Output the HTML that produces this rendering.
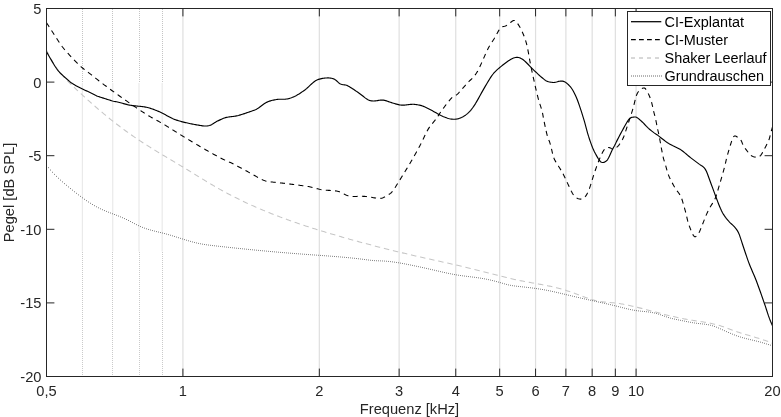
<!DOCTYPE html>
<html lang="de"><head><meta charset="utf-8"><title>Pegel / Frequenz</title>
<style>html,body{margin:0;padding:0;background:#fff;}body{width:781px;height:417px;overflow:hidden;}svg{display:block;will-change:transform;}</style>
</head><body>
<svg width="781" height="417" viewBox="0 0 781 417">
<rect width="781" height="417" fill="#fff"/>
<line x1="182.92" y1="8.5" x2="182.92" y2="376.5" stroke="#dfdfdf" stroke-width="1.2"/>
<line x1="319.33" y1="8.5" x2="319.33" y2="376.5" stroke="#dfdfdf" stroke-width="1.2"/>
<line x1="399.13" y1="8.5" x2="399.13" y2="376.5" stroke="#dfdfdf" stroke-width="1.2"/>
<line x1="455.75" y1="8.5" x2="455.75" y2="376.5" stroke="#dfdfdf" stroke-width="1.2"/>
<line x1="499.67" y1="8.5" x2="499.67" y2="376.5" stroke="#dfdfdf" stroke-width="1.2"/>
<line x1="535.55" y1="8.5" x2="535.55" y2="376.5" stroke="#dfdfdf" stroke-width="1.2"/>
<line x1="565.89" y1="8.5" x2="565.89" y2="376.5" stroke="#dfdfdf" stroke-width="1.2"/>
<line x1="592.17" y1="8.5" x2="592.17" y2="376.5" stroke="#dfdfdf" stroke-width="1.2"/>
<line x1="615.35" y1="8.5" x2="615.35" y2="376.5" stroke="#dfdfdf" stroke-width="1.2"/>
<line x1="636.08" y1="8.5" x2="636.08" y2="376.5" stroke="#dfdfdf" stroke-width="1.2"/>
<line x1="82.38" y1="8.5" x2="82.38" y2="83" stroke="#c4c4c4" stroke-width="1" stroke-dasharray="1 1" shape-rendering="crispEdges"/>
<line x1="82.38" y1="83" x2="82.38" y2="251.5" stroke="#eaeaea" stroke-width="1.2"/>
<line x1="82.38" y1="251.5" x2="82.38" y2="376.5" stroke="#cacaca" stroke-width="1" stroke-dasharray="1 1" shape-rendering="crispEdges"/>
<line x1="112.72" y1="8.5" x2="112.72" y2="83" stroke="#c4c4c4" stroke-width="1" stroke-dasharray="1 1" shape-rendering="crispEdges"/>
<line x1="112.72" y1="83" x2="112.72" y2="251.5" stroke="#eaeaea" stroke-width="1.2"/>
<line x1="112.72" y1="251.5" x2="112.72" y2="376.5" stroke="#cacaca" stroke-width="1" stroke-dasharray="1 1" shape-rendering="crispEdges"/>
<line x1="139.0" y1="8.5" x2="139.0" y2="83" stroke="#c4c4c4" stroke-width="1" stroke-dasharray="1 1" shape-rendering="crispEdges"/>
<line x1="139.0" y1="83" x2="139.0" y2="251.5" stroke="#eaeaea" stroke-width="1.2"/>
<line x1="139.0" y1="251.5" x2="139.0" y2="376.5" stroke="#cacaca" stroke-width="1" stroke-dasharray="1 1" shape-rendering="crispEdges"/>
<line x1="162.18" y1="8.5" x2="162.18" y2="83" stroke="#c4c4c4" stroke-width="1" stroke-dasharray="1 1" shape-rendering="crispEdges"/>
<line x1="162.18" y1="83" x2="162.18" y2="251.5" stroke="#eaeaea" stroke-width="1.2"/>
<line x1="162.18" y1="251.5" x2="162.18" y2="376.5" stroke="#cacaca" stroke-width="1" stroke-dasharray="1 1" shape-rendering="crispEdges"/>
<g fill="none" stroke-linejoin="round">
<path d="M46.5,50.10 L47.5,52.26 L48.5,54.31 L49.5,56.28 L50.5,58.15 L51.5,59.95 L52.5,61.66 L53.5,63.30 L54.5,64.87 L55.5,66.37 L56.5,67.81 L57.5,69.19 L58.5,70.52 L59.5,71.81 L60.5,73.04 L61.5,74.24 L62.5,75.40 L63.5,76.53 L64.5,77.63 L65.5,78.71 L66.5,79.77 L67.5,80.81 L68.5,81.84 L69.5,82.84 L70.5,83.84 L71.5,84.82 L72.5,85.79 L73.5,86.75 L74.5,87.70 L75.5,88.64 L76.5,89.58 L77.5,90.52 L78.5,91.45 L79.5,92.37 L80.5,93.30 L81.5,94.22 L82.5,95.14 L83.5,96.05 L84.5,96.96 L85.5,97.87 L86.5,98.77 L87.5,99.68 L88.5,100.57 L89.5,101.47 L90.5,102.36 L91.5,103.24 L92.5,104.12 L93.5,105.00 L94.5,105.88 L95.5,106.75 L96.5,107.61 L97.5,108.48 L98.5,109.33 L99.5,110.19 L100.5,111.04 L101.5,111.88 L102.5,112.72 L103.5,113.56 L104.5,114.39 L105.5,115.22 L106.5,116.04 L107.5,116.86 L108.5,117.67 L109.5,118.48 L110.5,119.29 L111.5,120.08 L112.5,120.88 L113.5,121.67 L114.5,122.45 L115.5,123.23 L116.5,124.00 L117.5,124.77 L118.5,125.53 L119.5,126.29 L120.5,127.05 L121.5,127.80 L122.5,128.54 L123.5,129.28 L124.5,130.01 L125.5,130.74 L126.5,131.47 L127.5,132.19 L128.5,132.90 L129.5,133.61 L130.5,134.32 L131.5,135.02 L132.5,135.72 L133.5,136.41 L134.5,137.10 L135.5,137.78 L136.5,138.46 L137.5,139.14 L138.5,139.81 L139.5,140.47 L140.5,141.13 L141.5,141.79 L142.5,142.44 L143.5,143.09 L144.5,143.74 L145.5,144.38 L146.5,145.02 L147.5,145.65 L148.5,146.28 L149.5,146.91 L150.5,147.53 L151.5,148.16 L152.5,148.78 L153.5,149.39 L154.5,150.01 L155.5,150.62 L156.5,151.23 L157.5,151.84 L158.5,152.44 L159.5,153.04 L160.5,153.65 L161.5,154.25 L162.5,154.85 L163.5,155.45 L164.5,156.04 L165.5,156.64 L166.5,157.24 L167.5,157.83 L168.5,158.43 L169.5,159.02 L170.5,159.61 L171.5,160.21 L172.5,160.80 L173.5,161.40 L174.5,161.99 L175.5,162.59 L176.5,163.18 L177.5,163.78 L178.5,164.38 L179.5,164.98 L180.5,165.58 L181.5,166.18 L182.5,166.78 L183.5,167.38 L184.5,167.99 L185.5,168.60 L186.5,169.21 L187.5,169.82 L188.5,170.43 L189.5,171.05 L190.5,171.66 L191.5,172.28 L192.5,172.90 L193.5,173.51 L194.5,174.13 L195.5,174.75 L196.5,175.37 L197.5,175.99 L198.5,176.60 L199.5,177.22 L200.5,177.83 L201.5,178.45 L202.5,179.06 L203.5,179.67 L204.5,180.28 L205.5,180.89 L206.5,181.49 L207.5,182.10 L208.5,182.70 L209.5,183.30 L210.5,183.89 L211.5,184.48 L212.5,185.07 L213.5,185.66 L214.5,186.24 L215.5,186.81 L216.5,187.39 L217.5,187.96 L218.5,188.52 L219.5,189.09 L220.5,189.64 L221.5,190.20 L222.5,190.75 L223.5,191.30 L224.5,191.84 L225.5,192.38 L226.5,192.91 L227.5,193.45 L228.5,193.97 L229.5,194.50 L230.5,195.02 L231.5,195.54 L232.5,196.05 L233.5,196.56 L234.5,197.07 L235.5,197.57 L236.5,198.07 L237.5,198.57 L238.5,199.06 L239.5,199.55 L240.5,200.04 L241.5,200.53 L242.5,201.01 L243.5,201.48 L244.5,201.96 L245.5,202.43 L246.5,202.90 L247.5,203.36 L248.5,203.82 L249.5,204.28 L250.5,204.74 L251.5,205.19 L252.5,205.64 L253.5,206.08 L254.5,206.53 L255.5,206.97 L256.5,207.41 L257.5,207.84 L258.5,208.27 L259.5,208.70 L260.5,209.13 L261.5,209.55 L262.5,209.97 L263.5,210.39 L264.5,210.81 L265.5,211.22 L266.5,211.63 L267.5,212.04 L268.5,212.44 L269.5,212.85 L270.5,213.25 L271.5,213.64 L272.5,214.04 L273.5,214.43 L274.5,214.82 L275.5,215.21 L276.5,215.60 L277.5,215.98 L278.5,216.36 L279.5,216.74 L280.5,217.12 L281.5,217.49 L282.5,217.86 L283.5,218.23 L284.5,218.60 L285.5,218.97 L286.5,219.33 L287.5,219.69 L288.5,220.05 L289.5,220.41 L290.5,220.76 L291.5,221.12 L292.5,221.47 L293.5,221.82 L294.5,222.17 L295.5,222.51 L296.5,222.86 L297.5,223.20 L298.5,223.54 L299.5,223.88 L300.5,224.21 L301.5,224.55 L302.5,224.88 L303.5,225.22 L304.5,225.55 L305.5,225.88 L306.5,226.20 L307.5,226.53 L308.5,226.85 L309.5,227.18 L310.5,227.50 L311.5,227.82 L312.5,228.14 L313.5,228.45 L314.5,228.77 L315.5,229.08 L316.5,229.40 L317.5,229.71 L318.5,230.02 L319.5,230.33 L320.5,230.64 L321.5,230.94 L322.5,231.25 L323.5,231.55 L324.5,231.86 L325.5,232.16 L326.5,232.46 L327.5,232.76 L328.5,233.06 L329.5,233.36 L330.5,233.66 L331.5,233.95 L332.5,234.25 L333.5,234.55 L334.5,234.84 L335.5,235.13 L336.5,235.43 L337.5,235.72 L338.5,236.01 L339.5,236.30 L340.5,236.59 L341.5,236.87 L342.5,237.16 L343.5,237.45 L344.5,237.73 L345.5,238.02 L346.5,238.30 L347.5,238.58 L348.5,238.86 L349.5,239.14 L350.5,239.42 L351.5,239.70 L352.5,239.98 L353.5,240.26 L354.5,240.54 L355.5,240.81 L356.5,241.09 L357.5,241.36 L358.5,241.63 L359.5,241.91 L360.5,242.18 L361.5,242.45 L362.5,242.72 L363.5,242.99 L364.5,243.26 L365.5,243.52 L366.5,243.79 L367.5,244.06 L368.5,244.32 L369.5,244.58 L370.5,244.85 L371.5,245.11 L372.5,245.37 L373.5,245.63 L374.5,245.89 L375.5,246.15 L376.5,246.41 L377.5,246.67 L378.5,246.93 L379.5,247.18 L380.5,247.44 L381.5,247.69 L382.5,247.95 L383.5,248.20 L384.5,248.45 L385.5,248.71 L386.5,248.96 L387.5,249.21 L388.5,249.46 L389.5,249.71 L390.5,249.95 L391.5,250.20 L392.5,250.45 L393.5,250.69 L394.5,250.94 L395.5,251.18 L396.5,251.43 L397.5,251.67 L398.5,251.91 L399.5,252.16 L400.5,252.40 L401.5,252.64 L402.5,252.88 L403.5,253.12 L404.5,253.35 L405.5,253.59 L406.5,253.83 L407.5,254.06 L408.5,254.30 L409.5,254.53 L410.5,254.77 L411.5,255.00 L412.5,255.23 L413.5,255.47 L414.5,255.70 L415.5,255.93 L416.5,256.16 L417.5,256.39 L418.5,256.62 L419.5,256.85 L420.5,257.07 L421.5,257.30 L422.5,257.53 L423.5,257.75 L424.5,257.98 L425.5,258.20 L426.5,258.43 L427.5,258.65 L428.5,258.87 L429.5,259.10 L430.5,259.32 L431.5,259.54 L432.5,259.77 L433.5,259.99 L434.5,260.21 L435.5,260.43 L436.5,260.65 L437.5,260.88 L438.5,261.10 L439.5,261.32 L440.5,261.54 L441.5,261.76 L442.5,261.99 L443.5,262.21 L444.5,262.43 L445.5,262.65 L446.5,262.88 L447.5,263.10 L448.5,263.33 L449.5,263.55 L450.5,263.77 L451.5,264.00 L452.5,264.23 L453.5,264.45 L454.5,264.68 L455.5,264.91 L456.5,265.13 L457.5,265.36 L458.5,265.59 L459.5,265.82 L460.5,266.05 L461.5,266.29 L462.5,266.52 L463.5,266.75 L464.5,266.99 L465.5,267.22 L466.5,267.46 L467.5,267.70 L468.5,267.94 L469.5,268.18 L470.5,268.42 L471.5,268.66 L472.5,268.90 L473.5,269.15 L474.5,269.39 L475.5,269.64 L476.5,269.89 L477.5,270.14 L478.5,270.39 L479.5,270.65 L480.5,270.90 L481.5,271.16 L482.5,271.41 L483.5,271.67 L484.5,271.93 L485.5,272.19 L486.5,272.45 L487.5,272.70 L488.5,272.96 L489.5,273.22 L490.5,273.48 L491.5,273.74 L492.5,274.00 L493.5,274.26 L494.5,274.52 L495.5,274.78 L496.5,275.04 L497.5,275.29 L498.5,275.55 L499.5,275.80 L500.5,276.05 L501.5,276.31 L502.5,276.56 L503.5,276.81 L504.5,277.05 L505.5,277.30 L506.5,277.54 L507.5,277.78 L508.5,278.02 L509.5,278.26 L510.5,278.49 L511.5,278.72 L512.5,278.95 L513.5,279.18 L514.5,279.40 L515.5,279.62 L516.5,279.84 L517.5,280.05 L518.5,280.27 L519.5,280.47 L520.5,280.68 L521.5,280.88 L522.5,281.07 L523.5,281.27 L524.5,281.46 L525.5,281.65 L526.5,281.83 L527.5,282.02 L528.5,282.20 L529.5,282.38 L530.5,282.56 L531.5,282.74 L532.5,282.92 L533.5,283.10 L534.5,283.28 L535.5,283.46 L536.5,283.64 L537.5,283.82 L538.5,284.00 L539.5,284.18 L540.5,284.36 L541.5,284.55 L542.5,284.74 L543.5,284.93 L544.5,285.12 L545.5,285.31 L546.5,285.51 L547.5,285.72 L548.5,285.92 L549.5,286.13 L550.5,286.34 L551.5,286.56 L552.5,286.79 L553.5,287.01 L554.5,287.25 L555.5,287.49 L556.5,287.73 L557.5,287.98 L558.5,288.24 L559.5,288.50 L560.5,288.77 L561.5,289.05 L562.5,289.33 L563.5,289.62 L564.5,289.93 L565.5,290.23 L566.5,290.55 L567.5,290.88 L568.5,291.21 L569.5,291.55 L570.5,291.90 L571.5,292.26 L572.5,292.62 L573.5,292.98 L574.5,293.35 L575.5,293.72 L576.5,294.10 L577.5,294.47 L578.5,294.85 L579.5,295.22 L580.5,295.60 L581.5,295.97 L582.5,296.34 L583.5,296.70 L584.5,297.06 L585.5,297.42 L586.5,297.77 L587.5,298.11 L588.5,298.44 L589.5,298.76 L590.5,299.08 L591.5,299.38 L592.5,299.68 L593.5,299.96 L594.5,300.22 L595.5,300.48 L596.5,300.72 L597.5,300.94 L598.5,301.15 L599.5,301.33 L600.5,301.51 L601.5,301.66 L602.5,301.80 L603.5,301.92 L604.5,302.04 L605.5,302.14 L606.5,302.23 L607.5,302.32 L608.5,302.41 L609.5,302.49 L610.5,302.57 L611.5,302.66 L612.5,302.75 L613.5,302.84 L614.5,302.94 L615.5,303.05 L616.5,303.18 L617.5,303.31 L618.5,303.45 L619.5,303.59 L620.5,303.75 L621.5,303.91 L622.5,304.09 L623.5,304.27 L624.5,304.45 L625.5,304.65 L626.5,304.85 L627.5,305.05 L628.5,305.26 L629.5,305.48 L630.5,305.70 L631.5,305.93 L632.5,306.16 L633.5,306.40 L634.5,306.63 L635.5,306.88 L636.5,307.12 L637.5,307.37 L638.5,307.62 L639.5,307.87 L640.5,308.12 L641.5,308.38 L642.5,308.63 L643.5,308.89 L644.5,309.15 L645.5,309.41 L646.5,309.67 L647.5,309.94 L648.5,310.20 L649.5,310.46 L650.5,310.73 L651.5,310.99 L652.5,311.26 L653.5,311.53 L654.5,311.79 L655.5,312.06 L656.5,312.32 L657.5,312.58 L658.5,312.85 L659.5,313.11 L660.5,313.37 L661.5,313.63 L662.5,313.89 L663.5,314.15 L664.5,314.40 L665.5,314.66 L666.5,314.91 L667.5,315.16 L668.5,315.41 L669.5,315.65 L670.5,315.90 L671.5,316.14 L672.5,316.37 L673.5,316.61 L674.5,316.84 L675.5,317.07 L676.5,317.29 L677.5,317.52 L678.5,317.73 L679.5,317.95 L680.5,318.16 L681.5,318.36 L682.5,318.56 L683.5,318.76 L684.5,318.95 L685.5,319.14 L686.5,319.32 L687.5,319.50 L688.5,319.67 L689.5,319.84 L690.5,320.01 L691.5,320.16 L692.5,320.32 L693.5,320.47 L694.5,320.63 L695.5,320.78 L696.5,320.92 L697.5,321.07 L698.5,321.22 L699.5,321.37 L700.5,321.53 L701.5,321.68 L702.5,321.84 L703.5,322.00 L704.5,322.16 L705.5,322.33 L706.5,322.50 L707.5,322.68 L708.5,322.87 L709.5,323.06 L710.5,323.26 L711.5,323.47 L712.5,323.69 L713.5,323.91 L714.5,324.15 L715.5,324.40 L716.5,324.66 L717.5,324.93 L718.5,325.21 L719.5,325.50 L720.5,325.81 L721.5,326.14 L722.5,326.47 L723.5,326.82 L724.5,327.17 L725.5,327.54 L726.5,327.91 L727.5,328.28 L728.5,328.66 L729.5,329.04 L730.5,329.41 L731.5,329.79 L732.5,330.16 L733.5,330.53 L734.5,330.89 L735.5,331.24 L736.5,331.59 L737.5,331.93 L738.5,332.26 L739.5,332.59 L740.5,332.91 L741.5,333.22 L742.5,333.53 L743.5,333.84 L744.5,334.14 L745.5,334.44 L746.5,334.74 L747.5,335.03 L748.5,335.33 L749.5,335.62 L750.5,335.91 L751.5,336.20 L752.5,336.50 L753.5,336.79 L754.5,337.08 L755.5,337.38 L756.5,337.68 L757.5,337.98 L758.5,338.29 L759.5,338.59 L760.5,338.91 L761.5,339.23 L762.5,339.55 L763.5,339.88 L764.5,340.22 L765.5,340.56 L766.5,340.92 L767.5,341.29 L768.5,341.67 L769.5,342.07 L770.5,342.49 L771.5,342.92 L772.5,343.37" stroke="#c6c6c6" stroke-width="1.05" stroke-dasharray="5.5 3.8"/>
<path d="M48.1,167.67h0.8M50.1,170.05h0.8M52.1,172.28h0.8M54.1,174.38h0.8M56.1,176.38h0.8M58.1,178.28h0.8M60.1,180.11h0.8M62.1,181.89h0.8M64.1,183.61h0.8M66.1,185.29h0.8M68.1,186.93h0.8M70.1,188.56h0.8M72.1,190.17h0.8M74.1,191.76h0.8M76.1,193.32h0.8M78.1,194.86h0.8M80.1,196.37h0.8M82.1,197.84h0.8M84.1,199.27h0.8M86.1,200.66h0.8M88.1,201.99h0.8M90.1,203.28h0.8M92.1,204.51h0.8M94.1,205.68h0.8M96.1,206.79h0.8M98.1,207.82h0.8M100.1,208.80h0.8M102.1,209.71h0.8M104.1,210.58h0.8M106.1,211.41h0.8M108.1,212.21h0.8M110.1,212.98h0.8M112.1,213.75h0.8M114.1,214.51h0.8M116.1,215.28h0.8M118.1,216.06h0.8M120.1,216.86h0.8M122.1,217.70h0.8M124.1,218.57h0.8M126.1,219.50h0.8M128.1,220.48h0.8M130.1,221.51h0.8M132.1,222.57h0.8M134.1,223.63h0.8M136.1,224.66h0.8M138.1,225.64h0.8M140.1,226.56h0.8M142.1,227.39h0.8M144.1,228.14h0.8M146.1,228.82h0.8M148.1,229.45h0.8M150.1,230.03h0.8M152.1,230.57h0.8M154.1,231.08h0.8M156.1,231.58h0.8M158.1,232.06h0.8M160.1,232.54h0.8M162.1,233.03h0.8M164.1,233.54h0.8M166.1,234.08h0.8M168.1,234.65h0.8M170.1,235.23h0.8M172.1,235.83h0.8M174.1,236.45h0.8M176.1,237.08h0.8M178.1,237.71h0.8M180.1,238.35h0.8M182.1,238.98h0.8M184.1,239.60h0.8M186.1,240.21h0.8M188.1,240.80h0.8M190.1,241.38h0.8M192.1,241.93h0.8M194.1,242.45h0.8M196.1,242.93h0.8M198.1,243.38h0.8M200.1,243.79h0.8M202.1,244.16h0.8M204.1,244.48h0.8M206.1,244.78h0.8M208.1,245.05h0.8M210.1,245.31h0.8M212.1,245.55h0.8M214.1,245.78h0.8M216.1,246.00h0.8M218.1,246.23h0.8M220.1,246.45h0.8M222.1,246.68h0.8M224.1,246.90h0.8M226.1,247.12h0.8M228.1,247.33h0.8M230.1,247.55h0.8M232.1,247.76h0.8M234.1,247.98h0.8M236.1,248.19h0.8M238.1,248.40h0.8M240.1,248.60h0.8M242.1,248.81h0.8M244.1,249.01h0.8M246.1,249.21h0.8M248.1,249.41h0.8M250.1,249.61h0.8M252.1,249.81h0.8M254.1,250.01h0.8M256.1,250.20h0.8M258.1,250.39h0.8M260.1,250.58h0.8M262.1,250.77h0.8M264.1,250.95h0.8M266.1,251.14h0.8M268.1,251.32h0.8M270.1,251.50h0.8M272.1,251.68h0.8M274.1,251.86h0.8M276.1,252.03h0.8M278.1,252.21h0.8M280.1,252.38h0.8M282.1,252.55h0.8M284.1,252.71h0.8M286.1,252.88h0.8M288.1,253.04h0.8M290.1,253.20h0.8M292.1,253.36h0.8M294.1,253.52h0.8M296.1,253.68h0.8M298.1,253.83h0.8M300.1,253.98h0.8M302.1,254.14h0.8M304.1,254.28h0.8M306.1,254.43h0.8M308.1,254.57h0.8M310.1,254.72h0.8M312.1,254.86h0.8M314.1,255.00h0.8M316.1,255.14h0.8M318.1,255.29h0.8M320.1,255.43h0.8M322.1,255.57h0.8M324.1,255.72h0.8M326.1,255.86h0.8M328.1,256.01h0.8M330.1,256.16h0.8M332.1,256.32h0.8M334.1,256.47h0.8M336.1,256.64h0.8M338.1,256.80h0.8M340.1,256.97h0.8M342.1,257.15h0.8M344.1,257.32h0.8M346.1,257.51h0.8M348.1,257.70h0.8M350.1,257.90h0.8M352.1,258.10h0.8M354.1,258.31h0.8M356.1,258.53h0.8M358.1,258.76h0.8M360.1,258.99h0.8M362.1,259.24h0.8M364.1,259.49h0.8M366.1,259.75h0.8M368.1,260.01h0.8M370.1,260.25h0.8M372.1,260.46h0.8M374.1,260.63h0.8M376.1,260.74h0.8M378.1,260.82h0.8M380.1,260.88h0.8M382.1,260.96h0.8M384.1,261.07h0.8M386.1,261.23h0.8M388.1,261.41h0.8M390.1,261.63h0.8M392.1,261.87h0.8M394.1,262.15h0.8M396.1,262.44h0.8M398.1,262.76h0.8M400.1,263.10h0.8M402.1,263.46h0.8M404.1,263.83h0.8M406.1,264.21h0.8M408.1,264.61h0.8M410.1,265.01h0.8M412.1,265.42h0.8M414.1,265.83h0.8M416.1,266.25h0.8M418.1,266.67h0.8M420.1,267.10h0.8M422.1,267.54h0.8M424.1,267.98h0.8M426.1,268.42h0.8M428.1,268.87h0.8M430.1,269.33h0.8M432.1,269.78h0.8M434.1,270.25h0.8M436.1,270.71h0.8M438.1,271.17h0.8M440.1,271.63h0.8M442.1,272.08h0.8M444.1,272.53h0.8M446.1,272.96h0.8M448.1,273.39h0.8M450.1,273.79h0.8M452.1,274.18h0.8M454.1,274.55h0.8M456.1,274.90h0.8M458.1,275.22h0.8M460.1,275.52h0.8M462.1,275.80h0.8M464.1,276.06h0.8M466.1,276.31h0.8M468.1,276.56h0.8M470.1,276.80h0.8M472.1,277.05h0.8M474.1,277.31h0.8M476.1,277.57h0.8M478.1,277.86h0.8M480.1,278.16h0.8M482.1,278.49h0.8M484.1,278.84h0.8M486.1,279.23h0.8M488.1,279.64h0.8M490.1,280.09h0.8M492.1,280.55h0.8M494.1,281.05h0.8M496.1,281.57h0.8M498.1,282.12h0.8M500.1,282.69h0.8M502.1,283.28h0.8M504.1,283.87h0.8M506.1,284.41h0.8M508.1,284.91h0.8M510.1,285.32h0.8M512.1,285.66h0.8M514.1,285.95h0.8M516.1,286.20h0.8M518.1,286.43h0.8M520.1,286.64h0.8M522.1,286.86h0.8M524.1,287.08h0.8M526.1,287.30h0.8M528.1,287.54h0.8M530.1,287.78h0.8M532.1,288.03h0.8M534.1,288.30h0.8M536.1,288.57h0.8M538.1,288.87h0.8M540.1,289.18h0.8M542.1,289.51h0.8M544.1,289.86h0.8M546.1,290.23h0.8M548.1,290.62h0.8M550.1,291.03h0.8M552.1,291.46h0.8M554.1,291.90h0.8M556.1,292.36h0.8M558.1,292.82h0.8M560.1,293.29h0.8M562.1,293.76h0.8M564.1,294.24h0.8M566.1,294.72h0.8M568.1,295.19h0.8M570.1,295.66h0.8M572.1,296.13h0.8M574.1,296.60h0.8M576.1,297.07h0.8M578.1,297.53h0.8M580.1,297.99h0.8M582.1,298.45h0.8M584.1,298.90h0.8M586.1,299.35h0.8M588.1,299.81h0.8M590.1,300.25h0.8M592.1,300.70h0.8M594.1,301.14h0.8M596.1,301.58h0.8M598.1,302.02h0.8M600.1,302.46h0.8M602.1,302.90h0.8M604.1,303.34h0.8M606.1,303.78h0.8M608.1,304.22h0.8M610.1,304.68h0.8M612.1,305.15h0.8M614.1,305.63h0.8M616.1,306.13h0.8M618.1,306.64h0.8M620.1,307.15h0.8M622.1,307.67h0.8M624.1,308.18h0.8M626.1,308.67h0.8M628.1,309.13h0.8M630.1,309.57h0.8M632.1,309.97h0.8M634.1,310.33h0.8M636.1,310.64h0.8M638.1,310.90h0.8M640.1,311.12h0.8M642.1,311.32h0.8M644.1,311.52h0.8M646.1,311.74h0.8M648.1,311.98h0.8M650.1,312.26h0.8M652.1,312.61h0.8M654.1,313.03h0.8M656.1,313.54h0.8M658.1,314.13h0.8M660.1,314.79h0.8M662.1,315.49h0.8M664.1,316.20h0.8M666.1,316.89h0.8M668.1,317.54h0.8M670.1,318.13h0.8M672.1,318.64h0.8M674.1,319.10h0.8M676.1,319.52h0.8M678.1,319.93h0.8M680.1,320.32h0.8M682.1,320.73h0.8M684.1,321.14h0.8M686.1,321.54h0.8M688.1,321.93h0.8M690.1,322.30h0.8M692.1,322.66h0.8M694.1,322.98h0.8M696.1,323.26h0.8M698.1,323.51h0.8M700.1,323.73h0.8M702.1,323.94h0.8M704.1,324.17h0.8M706.1,324.44h0.8M708.1,324.78h0.8M710.1,325.22h0.8M712.1,325.77h0.8M714.1,326.43h0.8M716.1,327.18h0.8M718.1,328.01h0.8M720.1,328.88h0.8M722.1,329.79h0.8M724.1,330.70h0.8M726.1,331.61h0.8M728.1,332.49h0.8M730.1,333.35h0.8M732.1,334.17h0.8M734.1,334.96h0.8M736.1,335.71h0.8M738.1,336.40h0.8M740.1,337.04h0.8M742.1,337.63h0.8M744.1,338.19h0.8M746.1,338.70h0.8M748.1,339.20h0.8M750.1,339.68h0.8M752.1,340.15h0.8M754.1,340.63h0.8M756.1,341.11h0.8M758.1,341.62h0.8M760.1,342.15h0.8M762.1,342.72h0.8M764.1,343.32h0.8M766.1,343.94h0.8M768.1,344.56h0.8M770.1,345.15h0.8" stroke="#505050" stroke-width="0.9"/>
<path d="M46.5,22.67 L47.5,24.23 L48.5,25.79 L49.5,27.34 L50.5,28.90 L51.5,30.45 L52.5,32.00 L53.5,33.55 L54.5,35.10 L55.5,36.64 L56.5,38.18 L57.5,39.71 L58.5,41.23 L59.5,42.75 L60.5,44.24 L61.5,45.66 L62.5,47.00 L63.5,48.27 L64.5,49.49 L65.5,50.66 L66.5,51.79 L67.5,52.90 L68.5,53.98 L69.5,55.06 L70.5,56.14 L71.5,57.22 L72.5,58.30 L73.5,59.37 L74.5,60.43 L75.5,61.47 L76.5,62.49 L77.5,63.49 L78.5,64.46 L79.5,65.40 L80.5,66.30 L81.5,67.16 L82.5,67.98 L83.5,68.77 L84.5,69.56 L85.5,70.33 L86.5,71.10 L87.5,71.87 L88.5,72.64 L89.5,73.40 L90.5,74.17 L91.5,74.94 L92.5,75.72 L93.5,76.50 L94.5,77.28 L95.5,78.08 L96.5,78.89 L97.5,79.70 L98.5,80.50 L99.5,81.29 L100.5,82.06 L101.5,82.82 L102.5,83.57 L103.5,84.32 L104.5,85.06 L105.5,85.80 L106.5,86.54 L107.5,87.27 L108.5,88.01 L109.5,88.75 L110.5,89.48 L111.5,90.22 L112.5,90.95 L113.5,91.68 L114.5,92.41 L115.5,93.13 L116.5,93.85 L117.5,94.57 L118.5,95.29 L119.5,96.00 L120.5,96.71 L121.5,97.41 L122.5,98.12 L123.5,98.82 L124.5,99.53 L125.5,100.23 L126.5,100.93 L127.5,101.63 L128.5,102.33 L129.5,103.03 L130.5,103.73 L131.5,104.42 L132.5,105.11 L133.5,105.80 L134.5,106.49 L135.5,107.17 L136.5,107.85 L137.5,108.53 L138.5,109.20 L139.5,109.87 L140.5,110.54 L141.5,111.20 L142.5,111.85 L143.5,112.50 L144.5,113.15 L145.5,113.79 L146.5,114.43 L147.5,115.06 L148.5,115.68 L149.5,116.29 L150.5,116.88 L151.5,117.45 L152.5,118.02 L153.5,118.58 L154.5,119.14 L155.5,119.69 L156.5,120.23 L157.5,120.78 L158.5,121.33 L159.5,121.88 L160.5,122.44 L161.5,123.00 L162.5,123.57 L163.5,124.16 L164.5,124.76 L165.5,125.37 L166.5,125.98 L167.5,126.60 L168.5,127.22 L169.5,127.85 L170.5,128.48 L171.5,129.10 L172.5,129.73 L173.5,130.36 L174.5,130.99 L175.5,131.62 L176.5,132.25 L177.5,132.88 L178.5,133.51 L179.5,134.13 L180.5,134.76 L181.5,135.38 L182.5,136.00 L183.5,136.61 L184.5,137.22 L185.5,137.82 L186.5,138.43 L187.5,139.03 L188.5,139.63 L189.5,140.23 L190.5,140.83 L191.5,141.42 L192.5,142.02 L193.5,142.61 L194.5,143.21 L195.5,143.80 L196.5,144.39 L197.5,144.98 L198.5,145.57 L199.5,146.16 L200.5,146.74 L201.5,147.33 L202.5,147.92 L203.5,148.50 L204.5,149.08 L205.5,149.66 L206.5,150.24 L207.5,150.81 L208.5,151.39 L209.5,151.95 L210.5,152.52 L211.5,153.08 L212.5,153.64 L213.5,154.20 L214.5,154.75 L215.5,155.29 L216.5,155.84 L217.5,156.38 L218.5,156.91 L219.5,157.44 L220.5,157.96 L221.5,158.46 L222.5,158.95 L223.5,159.42 L224.5,159.88 L225.5,160.33 L226.5,160.78 L227.5,161.23 L228.5,161.68 L229.5,162.14 L230.5,162.61 L231.5,163.10 L232.5,163.60 L233.5,164.11 L234.5,164.63 L235.5,165.15 L236.5,165.68 L237.5,166.20 L238.5,166.73 L239.5,167.26 L240.5,167.79 L241.5,168.33 L242.5,168.86 L243.5,169.40 L244.5,169.93 L245.5,170.47 L246.5,171.02 L247.5,171.57 L248.5,172.13 L249.5,172.69 L250.5,173.26 L251.5,173.83 L252.5,174.40 L253.5,174.96 L254.5,175.53 L255.5,176.09 L256.5,176.65 L257.5,177.20 L258.5,177.75 L259.5,178.29 L260.5,178.81 L261.5,179.32 L262.5,179.79 L263.5,180.23 L264.5,180.61 L265.5,180.94 L266.5,181.21 L267.5,181.40 L268.5,181.55 L269.5,181.69 L270.5,181.82 L271.5,181.95 L272.5,182.07 L273.5,182.18 L274.5,182.30 L275.5,182.40 L276.5,182.51 L277.5,182.61 L278.5,182.71 L279.5,182.82 L280.5,182.92 L281.5,183.02 L282.5,183.13 L283.5,183.24 L284.5,183.35 L285.5,183.46 L286.5,183.59 L287.5,183.71 L288.5,183.84 L289.5,183.97 L290.5,184.10 L291.5,184.23 L292.5,184.36 L293.5,184.49 L294.5,184.62 L295.5,184.75 L296.5,184.89 L297.5,185.02 L298.5,185.15 L299.5,185.29 L300.5,185.42 L301.5,185.56 L302.5,185.70 L303.5,185.84 L304.5,185.98 L305.5,186.12 L306.5,186.27 L307.5,186.41 L308.5,186.58 L309.5,186.78 L310.5,187.00 L311.5,187.25 L312.5,187.50 L313.5,187.77 L314.5,188.04 L315.5,188.32 L316.5,188.59 L317.5,188.85 L318.5,189.09 L319.5,189.32 L320.5,189.52 L321.5,189.69 L322.5,189.83 L323.5,189.95 L324.5,190.06 L325.5,190.14 L326.5,190.22 L327.5,190.28 L328.5,190.34 L329.5,190.40 L330.5,190.46 L331.5,190.53 L332.5,190.60 L333.5,190.68 L334.5,190.79 L335.5,190.91 L336.5,191.05 L337.5,191.22 L338.5,191.46 L339.5,191.80 L340.5,192.21 L341.5,192.68 L342.5,193.19 L343.5,193.71 L344.5,194.23 L345.5,194.73 L346.5,195.19 L347.5,195.59 L348.5,195.91 L349.5,196.14 L350.5,196.27 L351.5,196.36 L352.5,196.41 L353.5,196.45 L354.5,196.46 L355.5,196.45 L356.5,196.43 L357.5,196.41 L358.5,196.38 L359.5,196.35 L360.5,196.33 L361.5,196.32 L362.5,196.32 L363.5,196.34 L364.5,196.38 L365.5,196.45 L366.5,196.55 L367.5,196.68 L368.5,196.82 L369.5,196.98 L370.5,197.15 L371.5,197.33 L372.5,197.51 L373.5,197.68 L374.5,197.85 L375.5,198.00 L376.5,198.14 L377.5,198.25 L378.5,198.34 L379.5,198.39 L380.5,198.38 L381.5,198.21 L382.5,197.92 L383.5,197.51 L384.5,197.02 L385.5,196.47 L386.5,195.88 L387.5,195.28 L388.5,194.69 L389.5,194.07 L390.5,193.36 L391.5,192.49 L392.5,191.41 L393.5,190.05 L394.5,188.50 L395.5,186.92 L396.5,185.33 L397.5,183.72 L398.5,182.11 L399.5,180.49 L400.5,178.86 L401.5,177.24 L402.5,175.62 L403.5,174.00 L404.5,172.37 L405.5,170.75 L406.5,169.12 L407.5,167.48 L408.5,165.84 L409.5,164.20 L410.5,162.53 L411.5,160.83 L412.5,159.10 L413.5,157.33 L414.5,155.54 L415.5,153.73 L416.5,151.91 L417.5,150.08 L418.5,148.24 L419.5,146.41 L420.5,144.57 L421.5,142.61 L422.5,140.55 L423.5,138.45 L424.5,136.33 L425.5,134.24 L426.5,132.24 L427.5,130.36 L428.5,128.64 L429.5,127.11 L430.5,125.73 L431.5,124.47 L432.5,123.28 L433.5,122.11 L434.5,120.93 L435.5,119.68 L436.5,118.33 L437.5,116.86 L438.5,115.34 L439.5,113.80 L440.5,112.28 L441.5,110.82 L442.5,109.43 L443.5,108.06 L444.5,106.72 L445.5,105.39 L446.5,104.09 L447.5,102.81 L448.5,101.56 L449.5,100.34 L450.5,99.14 L451.5,98.03 L452.5,97.07 L453.5,96.39 L454.5,96.02 L455.5,95.59 L456.5,94.90 L457.5,94.09 L458.5,93.07 L459.5,91.99 L460.5,90.88 L461.5,89.75 L462.5,88.61 L463.5,87.47 L464.5,86.33 L465.5,85.19 L466.5,84.06 L467.5,82.95 L468.5,81.92 L469.5,80.95 L470.5,80.00 L471.5,79.05 L472.5,78.07 L473.5,77.02 L474.5,75.83 L475.5,74.44 L476.5,72.95 L477.5,71.41 L478.5,69.61 L479.5,67.49 L480.5,65.31 L481.5,63.11 L482.5,60.89 L483.5,58.65 L484.5,56.36 L485.5,54.05 L486.5,51.81 L487.5,49.70 L488.5,47.77 L489.5,46.01 L490.5,44.38 L491.5,42.82 L492.5,41.30 L493.5,39.76 L494.5,38.17 L495.5,36.45 L496.5,34.59 L497.5,32.69 L498.5,30.87 L499.5,29.26 L500.5,28.00 L501.5,27.21 L502.5,26.76 L503.5,26.50 L504.5,26.30 L505.5,25.99 L506.5,25.46 L507.5,24.78 L508.5,24.03 L509.5,23.25 L510.5,22.46 L511.5,21.73 L512.5,21.07 L513.5,20.54 L514.5,20.42 L515.5,20.96 L516.5,21.99 L517.5,23.35 L518.5,24.85 L519.5,26.45 L520.5,28.25 L521.5,30.25 L522.5,32.42 L523.5,34.76 L524.5,37.29 L525.5,40.20 L526.5,43.66 L527.5,47.86 L528.5,53.07 L529.5,58.84 L530.5,64.44 L531.5,69.23 L532.5,73.79 L533.5,78.34 L534.5,82.85 L535.5,87.33 L536.5,91.72 L537.5,95.72 L538.5,99.52 L539.5,102.98 L540.5,105.94 L541.5,109.02 L542.5,112.90 L543.5,118.43 L544.5,123.40 L545.5,128.13 L546.5,132.57 L547.5,136.57 L548.5,139.48 L549.5,141.57 L550.5,144.84 L551.5,148.98 L552.5,153.28 L553.5,157.04 L554.5,159.59 L555.5,161.37 L556.5,163.07 L557.5,164.69 L558.5,166.26 L559.5,167.81 L560.5,169.39 L561.5,171.04 L562.5,172.79 L563.5,174.68 L564.5,176.76 L565.5,178.89 L566.5,181.01 L567.5,183.13 L568.5,185.24 L569.5,187.36 L570.5,189.47 L571.5,191.58 L572.5,193.52 L573.5,195.00 L574.5,196.13 L575.5,197.02 L576.5,197.80 L577.5,198.42 L578.5,198.82 L579.5,199.03 L580.5,199.11 L581.5,199.02 L582.5,198.73 L583.5,198.20 L584.5,197.41 L585.5,196.33 L586.5,194.89 L587.5,193.08 L588.5,190.90 L589.5,188.33 L590.5,185.40 L591.5,182.21 L592.5,178.91 L593.5,175.65 L594.5,172.58 L595.5,169.72 L596.5,166.92 L597.5,164.18 L598.5,161.56 L599.5,159.07 L600.5,156.73 L601.5,154.51 L602.5,152.39 L603.5,150.67 L604.5,149.43 L605.5,148.47 L606.5,147.82 L607.5,147.50 L608.5,147.47 L609.5,147.64 L610.5,148.03 L611.5,148.64 L612.5,149.05 L613.5,149.07 L614.5,148.80 L615.5,148.28 L616.5,147.53 L617.5,146.61 L618.5,145.54 L619.5,144.30 L620.5,142.89 L621.5,141.29 L622.5,139.49 L623.5,137.35 L624.5,134.78 L625.5,131.75 L626.5,128.60 L627.5,125.50 L628.5,122.52 L629.5,119.58 L630.5,116.60 L631.5,113.46 L632.5,110.12 L633.5,106.64 L634.5,102.57 L635.5,98.55 L636.5,95.19 L637.5,92.97 L638.5,91.55 L639.5,90.50 L640.5,89.59 L641.5,88.80 L642.5,88.27 L643.5,88.00 L644.5,88.04 L645.5,88.80 L646.5,90.31 L647.5,92.13 L648.5,94.09 L649.5,96.22 L650.5,98.72 L651.5,101.84 L652.5,106.14 L653.5,110.80 L654.5,114.55 L655.5,118.50 L656.5,123.50 L657.5,128.57 L658.5,132.99 L659.5,137.74 L660.5,143.37 L661.5,148.91 L662.5,154.09 L663.5,158.54 L664.5,161.97 L665.5,164.89 L666.5,168.59 L667.5,172.40 L668.5,175.12 L669.5,177.51 L670.5,179.62 L671.5,181.53 L672.5,183.38 L673.5,185.19 L674.5,186.96 L675.5,188.66 L676.5,190.14 L677.5,191.45 L678.5,192.74 L679.5,194.15 L680.5,195.82 L681.5,197.98 L682.5,201.04 L683.5,204.50 L684.5,208.03 L685.5,211.70 L686.5,215.73 L687.5,220.24 L688.5,223.66 L689.5,226.55 L690.5,229.15 L691.5,231.62 L692.5,233.83 L693.5,235.62 L694.5,236.62 L695.5,236.75 L696.5,236.16 L697.5,235.05 L698.5,233.71 L699.5,231.76 L700.5,229.38 L701.5,226.93 L702.5,224.45 L703.5,221.92 L704.5,219.32 L705.5,216.77 L706.5,214.37 L707.5,212.24 L708.5,210.29 L709.5,208.42 L710.5,206.52 L711.5,204.85 L712.5,203.36 L713.5,201.83 L714.5,200.03 L715.5,197.74 L716.5,194.79 L717.5,191.45 L718.5,188.09 L719.5,184.74 L720.5,181.36 L721.5,177.93 L722.5,174.44 L723.5,170.87 L724.5,167.22 L725.5,163.07 L726.5,158.49 L727.5,154.90 L728.5,151.44 L729.5,148.04 L730.5,144.73 L731.5,141.58 L732.5,138.73 L733.5,136.84 L734.5,135.95 L735.5,135.95 L736.5,136.50 L737.5,137.18 L738.5,137.97 L739.5,138.84 L740.5,139.79 L741.5,141.18 L742.5,143.77 L743.5,146.19 L744.5,147.56 L745.5,148.87 L746.5,150.17 L747.5,151.46 L748.5,152.74 L749.5,154.00 L750.5,155.07 L751.5,155.84 L752.5,156.36 L753.5,156.71 L754.5,156.94 L755.5,157.12 L756.5,157.23 L757.5,157.19 L758.5,156.95 L759.5,156.44 L760.5,155.59 L761.5,154.33 L762.5,152.63 L763.5,150.73 L764.5,148.81 L765.5,146.88 L766.5,144.96 L767.5,143.10 L768.5,141.20 L769.5,138.21 L770.5,134.16 L771.5,130.30 L772.5,127.00" stroke="#000" stroke-width="1.08" stroke-dasharray="5.0 4.3"/>
<path d="M46.5,51.74 L47.5,53.52 L48.5,55.26 L49.5,56.99 L50.5,58.70 L51.5,60.41 L52.5,62.12 L53.5,63.81 L54.5,65.45 L55.5,67.02 L56.5,68.50 L57.5,69.87 L58.5,71.11 L59.5,72.24 L60.5,73.28 L61.5,74.26 L62.5,75.18 L63.5,76.07 L64.5,76.96 L65.5,77.85 L66.5,78.75 L67.5,79.65 L68.5,80.53 L69.5,81.38 L70.5,82.18 L71.5,82.93 L72.5,83.60 L73.5,84.22 L74.5,84.82 L75.5,85.40 L76.5,85.97 L77.5,86.52 L78.5,87.05 L79.5,87.57 L80.5,88.08 L81.5,88.57 L82.5,89.05 L83.5,89.52 L84.5,89.98 L85.5,90.44 L86.5,90.89 L87.5,91.34 L88.5,91.79 L89.5,92.25 L90.5,92.71 L91.5,93.17 L92.5,93.65 L93.5,94.18 L94.5,94.76 L95.5,95.34 L96.5,95.85 L97.5,96.23 L98.5,96.55 L99.5,96.87 L100.5,97.19 L101.5,97.51 L102.5,97.83 L103.5,98.15 L104.5,98.47 L105.5,98.79 L106.5,99.11 L107.5,99.43 L108.5,99.75 L109.5,100.07 L110.5,100.39 L111.5,100.71 L112.5,101.03 L113.5,101.29 L114.5,101.48 L115.5,101.63 L116.5,101.80 L117.5,102.03 L118.5,102.28 L119.5,102.54 L120.5,102.80 L121.5,103.06 L122.5,103.31 L123.5,103.57 L124.5,103.84 L125.5,104.10 L126.5,104.36 L127.5,104.63 L128.5,104.87 L129.5,105.08 L130.5,105.27 L131.5,105.43 L132.5,105.57 L133.5,105.70 L134.5,105.81 L135.5,105.92 L136.5,106.01 L137.5,106.10 L138.5,106.20 L139.5,106.29 L140.5,106.39 L141.5,106.50 L142.5,106.62 L143.5,106.76 L144.5,106.92 L145.5,107.09 L146.5,107.29 L147.5,107.52 L148.5,107.78 L149.5,108.06 L150.5,108.37 L151.5,108.69 L152.5,109.04 L153.5,109.40 L154.5,109.78 L155.5,110.17 L156.5,110.57 L157.5,110.98 L158.5,111.40 L159.5,111.83 L160.5,112.26 L161.5,112.73 L162.5,113.23 L163.5,113.75 L164.5,114.29 L165.5,114.84 L166.5,115.40 L167.5,115.96 L168.5,116.51 L169.5,117.05 L170.5,117.57 L171.5,118.07 L172.5,118.55 L173.5,118.99 L174.5,119.39 L175.5,119.75 L176.5,120.09 L177.5,120.42 L178.5,120.73 L179.5,121.02 L180.5,121.31 L181.5,121.58 L182.5,121.84 L183.5,122.09 L184.5,122.34 L185.5,122.58 L186.5,122.81 L187.5,123.05 L188.5,123.27 L189.5,123.49 L190.5,123.70 L191.5,123.91 L192.5,124.10 L193.5,124.29 L194.5,124.48 L195.5,124.66 L196.5,124.84 L197.5,125.01 L198.5,125.18 L199.5,125.35 L200.5,125.52 L201.5,125.67 L202.5,125.81 L203.5,125.93 L204.5,126.00 L205.5,126.03 L206.5,126.01 L207.5,125.92 L208.5,125.75 L209.5,125.49 L210.5,125.14 L211.5,124.66 L212.5,124.09 L213.5,123.46 L214.5,122.82 L215.5,122.19 L216.5,121.61 L217.5,121.11 L218.5,120.62 L219.5,120.13 L220.5,119.64 L221.5,119.16 L222.5,118.71 L223.5,118.29 L224.5,117.93 L225.5,117.62 L226.5,117.39 L227.5,117.20 L228.5,117.04 L229.5,116.91 L230.5,116.79 L231.5,116.67 L232.5,116.55 L233.5,116.42 L234.5,116.25 L235.5,116.07 L236.5,115.89 L237.5,115.70 L238.5,115.46 L239.5,115.17 L240.5,114.87 L241.5,114.56 L242.5,114.24 L243.5,113.91 L244.5,113.58 L245.5,113.24 L246.5,112.90 L247.5,112.55 L248.5,112.21 L249.5,111.87 L250.5,111.53 L251.5,111.18 L252.5,110.83 L253.5,110.46 L254.5,110.09 L255.5,109.69 L256.5,109.20 L257.5,108.62 L258.5,107.97 L259.5,107.26 L260.5,106.52 L261.5,105.76 L262.5,105.01 L263.5,104.27 L264.5,103.57 L265.5,102.93 L266.5,102.37 L267.5,101.90 L268.5,101.51 L269.5,101.15 L270.5,100.84 L271.5,100.56 L272.5,100.31 L273.5,100.08 L274.5,99.88 L275.5,99.70 L276.5,99.54 L277.5,99.39 L278.5,99.28 L279.5,99.22 L280.5,99.20 L281.5,99.21 L282.5,99.22 L283.5,99.23 L284.5,99.21 L285.5,99.16 L286.5,99.05 L287.5,98.88 L288.5,98.65 L289.5,98.38 L290.5,98.07 L291.5,97.71 L292.5,97.32 L293.5,96.89 L294.5,96.43 L295.5,95.93 L296.5,95.40 L297.5,94.84 L298.5,94.26 L299.5,93.64 L300.5,92.99 L301.5,92.32 L302.5,91.63 L303.5,90.92 L304.5,90.20 L305.5,89.44 L306.5,88.62 L307.5,87.73 L308.5,86.81 L309.5,85.87 L310.5,84.92 L311.5,83.99 L312.5,83.09 L313.5,82.25 L314.5,81.48 L315.5,80.81 L316.5,80.25 L317.5,79.79 L318.5,79.41 L319.5,79.10 L320.5,78.84 L321.5,78.61 L322.5,78.42 L323.5,78.26 L324.5,78.13 L325.5,78.03 L326.5,77.97 L327.5,77.94 L328.5,77.94 L329.5,77.98 L330.5,78.06 L331.5,78.23 L332.5,78.50 L333.5,78.85 L334.5,79.30 L335.5,79.88 L336.5,80.72 L337.5,81.70 L338.5,82.67 L339.5,83.46 L340.5,83.98 L341.5,84.32 L342.5,84.56 L343.5,84.73 L344.5,84.88 L345.5,85.05 L346.5,85.29 L347.5,85.64 L348.5,86.14 L349.5,86.76 L350.5,87.39 L351.5,88.03 L352.5,88.69 L353.5,89.35 L354.5,90.02 L355.5,90.70 L356.5,91.39 L357.5,92.08 L358.5,92.78 L359.5,93.49 L360.5,94.21 L361.5,94.97 L362.5,95.76 L363.5,96.55 L364.5,97.35 L365.5,98.12 L366.5,98.85 L367.5,99.53 L368.5,100.05 L369.5,100.41 L370.5,100.65 L371.5,100.81 L372.5,100.92 L373.5,100.97 L374.5,100.94 L375.5,100.85 L376.5,100.72 L377.5,100.57 L378.5,100.41 L379.5,100.26 L380.5,100.14 L381.5,100.07 L382.5,100.07 L383.5,100.14 L384.5,100.32 L385.5,100.60 L386.5,100.92 L387.5,101.26 L388.5,101.61 L389.5,101.97 L390.5,102.32 L391.5,102.65 L392.5,102.96 L393.5,103.25 L394.5,103.55 L395.5,103.83 L396.5,104.10 L397.5,104.36 L398.5,104.61 L399.5,104.84 L400.5,105.03 L401.5,105.14 L402.5,105.19 L403.5,105.18 L404.5,105.13 L405.5,105.03 L406.5,104.92 L407.5,104.79 L408.5,104.66 L409.5,104.53 L410.5,104.42 L411.5,104.34 L412.5,104.29 L413.5,104.30 L414.5,104.37 L415.5,104.49 L416.5,104.62 L417.5,104.78 L418.5,104.95 L419.5,105.16 L420.5,105.39 L421.5,105.67 L422.5,105.98 L423.5,106.35 L424.5,106.76 L425.5,107.23 L426.5,107.71 L427.5,108.20 L428.5,108.71 L429.5,109.23 L430.5,109.77 L431.5,110.31 L432.5,110.86 L433.5,111.41 L434.5,111.97 L435.5,112.53 L436.5,113.09 L437.5,113.64 L438.5,114.19 L439.5,114.73 L440.5,115.26 L441.5,115.76 L442.5,116.22 L443.5,116.66 L444.5,117.07 L445.5,117.46 L446.5,117.83 L447.5,118.20 L448.5,118.52 L449.5,118.78 L450.5,118.96 L451.5,119.10 L452.5,119.18 L453.5,119.21 L454.5,119.21 L455.5,119.17 L456.5,119.06 L457.5,118.86 L458.5,118.59 L459.5,118.25 L460.5,117.87 L461.5,117.43 L462.5,116.95 L463.5,116.42 L464.5,115.83 L465.5,115.16 L466.5,114.41 L467.5,113.58 L468.5,112.66 L469.5,111.64 L470.5,110.52 L471.5,109.31 L472.5,108.01 L473.5,106.63 L474.5,105.15 L475.5,103.57 L476.5,101.89 L477.5,100.14 L478.5,98.35 L479.5,96.54 L480.5,94.71 L481.5,92.90 L482.5,91.10 L483.5,89.35 L484.5,87.62 L485.5,85.89 L486.5,84.18 L487.5,82.49 L488.5,80.83 L489.5,79.22 L490.5,77.66 L491.5,76.17 L492.5,74.76 L493.5,73.48 L494.5,72.33 L495.5,71.29 L496.5,70.33 L497.5,69.44 L498.5,68.58 L499.5,67.74 L500.5,66.89 L501.5,66.07 L502.5,65.26 L503.5,64.47 L504.5,63.71 L505.5,62.96 L506.5,62.23 L507.5,61.52 L508.5,60.83 L509.5,60.16 L510.5,59.52 L511.5,58.95 L512.5,58.45 L513.5,58.04 L514.5,57.73 L515.5,57.51 L516.5,57.40 L517.5,57.41 L518.5,57.53 L519.5,57.79 L520.5,58.16 L521.5,58.66 L522.5,59.27 L523.5,59.99 L524.5,60.83 L525.5,61.77 L526.5,62.74 L527.5,63.74 L528.5,64.76 L529.5,65.78 L530.5,66.81 L531.5,67.84 L532.5,68.85 L533.5,69.85 L534.5,70.82 L535.5,71.76 L536.5,72.70 L537.5,73.63 L538.5,74.55 L539.5,75.46 L540.5,76.34 L541.5,77.21 L542.5,78.06 L543.5,78.88 L544.5,79.67 L545.5,80.39 L546.5,80.96 L547.5,81.40 L548.5,81.72 L549.5,81.96 L550.5,82.14 L551.5,82.29 L552.5,82.43 L553.5,82.46 L554.5,82.38 L555.5,82.20 L556.5,81.96 L557.5,81.69 L558.5,81.43 L559.5,81.22 L560.5,81.07 L561.5,81.03 L562.5,81.13 L563.5,81.39 L564.5,81.80 L565.5,82.36 L566.5,83.04 L567.5,83.85 L568.5,84.76 L569.5,85.78 L570.5,86.91 L571.5,88.23 L572.5,89.75 L573.5,91.47 L574.5,93.40 L575.5,95.51 L576.5,97.80 L577.5,100.29 L578.5,103.00 L579.5,105.87 L580.5,108.83 L581.5,111.90 L582.5,115.06 L583.5,118.32 L584.5,121.69 L585.5,125.33 L586.5,129.11 L587.5,132.79 L588.5,136.13 L589.5,139.21 L590.5,142.11 L591.5,144.86 L592.5,147.48 L593.5,149.85 L594.5,151.92 L595.5,153.81 L596.5,155.60 L597.5,157.35 L598.5,159.02 L599.5,160.50 L600.5,161.65 L601.5,162.27 L602.5,162.47 L603.5,162.40 L604.5,162.12 L605.5,161.59 L606.5,160.80 L607.5,159.81 L608.5,158.07 L609.5,155.91 L610.5,153.73 L611.5,151.54 L612.5,149.38 L613.5,147.52 L614.5,145.77 L615.5,143.76 L616.5,141.62 L617.5,139.62 L618.5,137.67 L619.5,135.75 L620.5,133.87 L621.5,132.03 L622.5,130.20 L623.5,128.38 L624.5,126.58 L625.5,124.79 L626.5,123.00 L627.5,121.36 L628.5,119.95 L629.5,118.71 L630.5,117.86 L631.5,117.43 L632.5,117.21 L633.5,117.10 L634.5,117.02 L635.5,117.03 L636.5,117.30 L637.5,117.88 L638.5,118.64 L639.5,119.50 L640.5,120.38 L641.5,121.28 L642.5,122.21 L643.5,123.20 L644.5,124.26 L645.5,125.34 L646.5,126.40 L647.5,127.40 L648.5,128.33 L649.5,129.21 L650.5,130.06 L651.5,130.86 L652.5,131.63 L653.5,132.38 L654.5,133.11 L655.5,133.80 L656.5,134.40 L657.5,135.08 L658.5,135.86 L659.5,136.67 L660.5,137.46 L661.5,138.24 L662.5,139.03 L663.5,139.81 L664.5,140.58 L665.5,141.34 L666.5,142.07 L667.5,142.75 L668.5,143.36 L669.5,143.93 L670.5,144.47 L671.5,145.01 L672.5,145.56 L673.5,146.08 L674.5,146.57 L675.5,147.04 L676.5,147.50 L677.5,147.98 L678.5,148.47 L679.5,149.01 L680.5,149.61 L681.5,150.28 L682.5,151.00 L683.5,151.78 L684.5,152.59 L685.5,153.43 L686.5,154.28 L687.5,155.13 L688.5,155.97 L689.5,156.79 L690.5,157.58 L691.5,158.34 L692.5,159.10 L693.5,159.86 L694.5,160.61 L695.5,161.36 L696.5,162.11 L697.5,162.86 L698.5,163.61 L699.5,164.35 L700.5,165.04 L701.5,165.63 L702.5,166.27 L703.5,167.10 L704.5,168.18 L705.5,169.63 L706.5,171.53 L707.5,173.97 L708.5,176.69 L709.5,179.43 L710.5,182.19 L711.5,184.95 L712.5,187.67 L713.5,190.38 L714.5,193.08 L715.5,195.78 L716.5,198.47 L717.5,201.12 L718.5,203.70 L719.5,206.18 L720.5,208.55 L721.5,210.76 L722.5,212.71 L723.5,214.42 L724.5,215.94 L725.5,217.31 L726.5,218.58 L727.5,219.78 L728.5,220.98 L729.5,222.11 L730.5,223.11 L731.5,224.02 L732.5,224.93 L733.5,225.88 L734.5,226.95 L735.5,228.14 L736.5,229.40 L737.5,230.89 L738.5,232.75 L739.5,235.15 L740.5,238.10 L741.5,241.17 L742.5,244.20 L743.5,247.20 L744.5,250.21 L745.5,253.20 L746.5,256.16 L747.5,259.08 L748.5,261.85 L749.5,264.45 L750.5,266.92 L751.5,269.31 L752.5,271.65 L753.5,273.97 L754.5,276.33 L755.5,278.75 L756.5,281.28 L757.5,283.94 L758.5,286.69 L759.5,289.46 L760.5,292.27 L761.5,295.10 L762.5,297.95 L763.5,300.83 L764.5,303.73 L765.5,306.69 L766.5,309.79 L767.5,312.90 L768.5,315.90 L769.5,318.66 L770.5,321.20 L771.5,323.57 L772.5,325.80" stroke="#000" stroke-width="1.15"/>
</g>
<rect x="46.5" y="8.5" width="726.0" height="368.0" fill="none" stroke="#262626" stroke-width="1"/>
<line x1="182.92" y1="376.5" x2="182.92" y2="368.6" stroke="#262626"/>
<line x1="182.92" y1="8.5" x2="182.92" y2="16.4" stroke="#262626"/>
<line x1="319.33" y1="376.5" x2="319.33" y2="368.6" stroke="#262626"/>
<line x1="319.33" y1="8.5" x2="319.33" y2="16.4" stroke="#262626"/>
<line x1="399.13" y1="376.5" x2="399.13" y2="368.6" stroke="#262626"/>
<line x1="399.13" y1="8.5" x2="399.13" y2="16.4" stroke="#262626"/>
<line x1="455.75" y1="376.5" x2="455.75" y2="368.6" stroke="#262626"/>
<line x1="455.75" y1="8.5" x2="455.75" y2="16.4" stroke="#262626"/>
<line x1="499.67" y1="376.5" x2="499.67" y2="368.6" stroke="#262626"/>
<line x1="499.67" y1="8.5" x2="499.67" y2="16.4" stroke="#262626"/>
<line x1="535.55" y1="376.5" x2="535.55" y2="368.6" stroke="#262626"/>
<line x1="535.55" y1="8.5" x2="535.55" y2="16.4" stroke="#262626"/>
<line x1="565.89" y1="376.5" x2="565.89" y2="368.6" stroke="#262626"/>
<line x1="565.89" y1="8.5" x2="565.89" y2="16.4" stroke="#262626"/>
<line x1="592.17" y1="376.5" x2="592.17" y2="368.6" stroke="#262626"/>
<line x1="592.17" y1="8.5" x2="592.17" y2="16.4" stroke="#262626"/>
<line x1="615.35" y1="376.5" x2="615.35" y2="368.6" stroke="#262626"/>
<line x1="615.35" y1="8.5" x2="615.35" y2="16.4" stroke="#262626"/>
<line x1="636.08" y1="376.5" x2="636.08" y2="368.6" stroke="#262626"/>
<line x1="636.08" y1="8.5" x2="636.08" y2="16.4" stroke="#262626"/>
<line x1="46.5" y1="82.1" x2="54.4" y2="82.1" stroke="#262626"/>
<line x1="772.5" y1="82.1" x2="764.6" y2="82.1" stroke="#262626"/>
<line x1="46.5" y1="155.7" x2="54.4" y2="155.7" stroke="#262626"/>
<line x1="772.5" y1="155.7" x2="764.6" y2="155.7" stroke="#262626"/>
<line x1="46.5" y1="229.3" x2="54.4" y2="229.3" stroke="#262626"/>
<line x1="772.5" y1="229.3" x2="764.6" y2="229.3" stroke="#262626"/>
<line x1="46.5" y1="302.9" x2="54.4" y2="302.9" stroke="#262626"/>
<line x1="772.5" y1="302.9" x2="764.6" y2="302.9" stroke="#262626"/>
<g font-family="Liberation Sans, Arial, Helvetica, sans-serif" font-size="14.67" fill="#262626">
<text x="46.5" y="395.9" text-anchor="middle">0,5</text>
<text x="182.9" y="395.9" text-anchor="middle">1</text>
<text x="319.3" y="395.9" text-anchor="middle">2</text>
<text x="399.1" y="395.9" text-anchor="middle">3</text>
<text x="455.8" y="395.9" text-anchor="middle">4</text>
<text x="499.7" y="395.9" text-anchor="middle">5</text>
<text x="535.5" y="395.9" text-anchor="middle">6</text>
<text x="565.9" y="395.9" text-anchor="middle">7</text>
<text x="592.2" y="395.9" text-anchor="middle">8</text>
<text x="615.3" y="395.9" text-anchor="middle">9</text>
<text x="636.1" y="395.9" text-anchor="middle">10</text>
<text x="772.5" y="395.9" text-anchor="middle">20</text>
<text x="41.5" y="13.9" text-anchor="end">5</text>
<text x="41.5" y="87.5" text-anchor="end">0</text>
<text x="41.5" y="161.1" text-anchor="end">-5</text>
<text x="41.5" y="234.7" text-anchor="end">-10</text>
<text x="41.5" y="308.3" text-anchor="end">-15</text>
<text x="41.5" y="381.9" text-anchor="end">-20</text>
</g>
<g font-family="Liberation Sans, Arial, Helvetica, sans-serif" font-size="14.67" fill="#262626">
<text x="409.5" y="413.5" text-anchor="middle">Frequenz [kHz]</text>
<text transform="translate(13.5,192.5) rotate(-90)" text-anchor="middle">Pegel [dB SPL]</text>
</g>
<rect x="627.5" y="11.5" width="143" height="74" fill="#fff" stroke="#262626" stroke-width="1"/>
<line x1="631" y1="21.7" x2="661.3" y2="21.7" stroke="#000" stroke-width="1.25"/>
<line x1="631" y1="39.6" x2="661.3" y2="39.6" stroke="#000" stroke-width="1.25" stroke-dasharray="4.8 3.2"/>
<line x1="631" y1="58.0" x2="661.3" y2="58.0" stroke="#b0b0b0" stroke-width="1" stroke-dasharray="4 4"/>
<line x1="631" y1="76.0" x2="662" y2="76.0" stroke="#6a6a6a" stroke-width="1" stroke-dasharray="1 1"/>
<g font-family="Liberation Sans, Arial, Helvetica, sans-serif" font-size="14.45" fill="#000">
<text x="664.6" y="26.9">CI-Explantat</text>
<text x="664.6" y="44.8">CI-Muster</text>
<text x="664.6" y="62.9">Shaker Leerlauf</text>
<text x="664.6" y="80.9">Grundrauschen</text>
</g>
</svg>
</body></html>
